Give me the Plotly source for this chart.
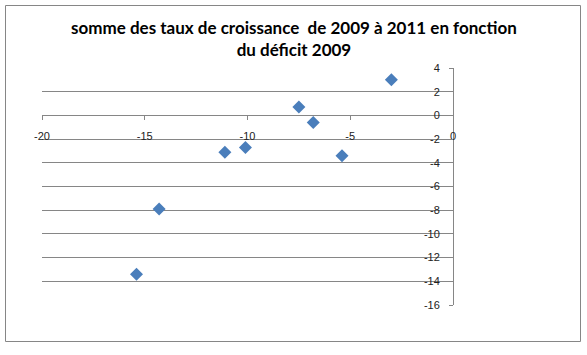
import plotly.graph_objects as go

# Data
deficit_2009 = [-15.4, -14.3, -11.1, -10.1, -7.5, -6.8, -5.4, -3.0]
growth_sum = [-13.4, -7.9, -3.1, -2.7, 0.7, -0.6, -3.4, 3.0]

x_ticks = [-20, -15, -10, -5, 0]
y_ticks = [4, 2, 0, -2, -4, -6, -8, -10, -12, -14, -16]

title_text = "somme des taux de croissance  de 2009 à 2011 en fonction<br>du déficit 2009"

W, H = 587, 355
L, R, T, B = 42, 453, 68, 305


def px2paper_x(p):
    return (p - L) / (R - L)


def px2paper_y(p):
    return (B - p) / (B - T)


GRAY = "#868686"

fig = go.Figure()
fig.add_trace(go.Scatter(
    x=deficit_2009, y=growth_sum, mode="markers",
    marker=dict(symbol="diamond", size=10, color="#4A7EBB",
                line=dict(width=0)),
    showlegend=False, hoverinfo="x+y",
))

tick_font = dict(family="Liberation Sans, Arial, sans-serif", size=11, color="#222222")

fig.update_layout(
    width=W, height=H,
    margin=dict(l=L, r=W - R, t=T, b=H - B),
    paper_bgcolor="white", plot_bgcolor="white",
    xaxis=dict(
        range=[-20, 0], tickvals=x_ticks, ticktext=[str(v) for v in x_ticks],
        showgrid=False, zeroline=False,
        showline=True, linecolor=GRAY, linewidth=1,
        ticks="outside", ticklen=4, tickcolor=GRAY, tickwidth=1,
        anchor="free", position=0.8, side="bottom",
        tickfont=tick_font, ticklabelstandoff=6,
        fixedrange=True,
    ),
    yaxis=dict(
        range=[-16, 4], tickvals=y_ticks, ticktext=[str(v) for v in y_ticks],
        showgrid=True, gridcolor=GRAY, gridwidth=1,
        zeroline=False,
        showline=True, linecolor=GRAY, linewidth=1,
        ticks="outside", ticklen=4, tickcolor=GRAY, tickwidth=1,
        anchor="free", position=1.0, side="left",
        tickfont=tick_font, ticklabelstandoff=7,
        fixedrange=True,
    ),
    shapes=[dict(
        type="rect", xref="paper", yref="paper",
        x0=px2paper_x(5.5), x1=px2paper_x(580.5),
        y0=px2paper_y(341.5), y1=px2paper_y(5.5),
        line=dict(color=GRAY, width=1), fillcolor="rgba(0,0,0,0)",
        layer="below",
    )],
    annotations=[dict(
        text=title_text, xref="paper", yref="paper",
        x=px2paper_x(293.5), y=px2paper_y(38.5),
        xanchor="center", yanchor="middle", showarrow=False,
        font=dict(family="Lato, Carlito, Calibri, sans-serif", size=17,
                  color="black", weight="bold"),
    )],
)

fig.write_html(
    "out.html",
    config={"displayModeBar": False},
    post_script="document.body.style.margin='0';document.body.style.overflow='hidden';",
)
